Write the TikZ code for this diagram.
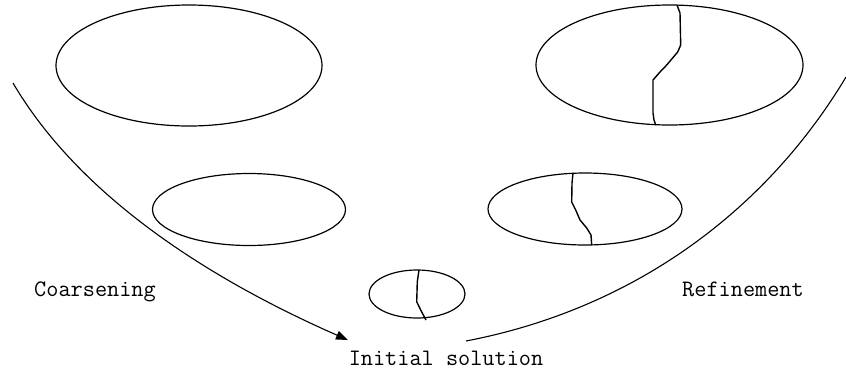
\documentclass[tikz,border=0pt]{standalone}
\usetikzlibrary{shapes.geometric,arrows.meta}
\tikzset{
  blob/.style={draw=black,ellipse,line width=1.2pt,inner sep=0pt},
  cut/.style={draw=black,line width=1.4pt,line join=round},
  flow/.style={draw=black,line width=1.1pt},
  lbl/.style={font=\ttfamily\fontsize{23.6}{27}\selectfont,anchor=base,inner sep=0pt}
}
\begin{document}
\begin{tikzpicture}[x=1pt,y=-1pt]
\useasboundingbox (0,0) rectangle (846,376);
% ellipses
\node[blob,minimum width=266pt,minimum height=121pt] (e1) at (189,65.5) {};
\node[blob,minimum width=267pt,minimum height=120pt] (e2) at (669.5,65) {};
\node[blob,minimum width=193pt,minimum height=72pt] (e3) at (249,209.5) {};
\node[blob,minimum width=194pt,minimum height=72pt] (e4) at (585,209) {};
\node[blob,minimum width=96pt,minimum height=48pt] (e5) at (417,294) {};
% partition cuts
\draw[cut] (677,5) -- (680,13) -- (680.7,45) -- (677.7,52) -- (666.7,65) -- (660,72) -- (653,80) -- (653,113) -- (654,120) -- (655.7,125);
\draw[cut] (573,173) -- (572,183) -- (571.7,202) -- (575.7,210) -- (580,220) -- (586.7,228) -- (591,235) -- (591.7,245);
\draw[cut] (419,270) -- (417.3,281.7) -- (416.7,301.7) -- (420.7,310) -- (426,320);
% labels
\node[lbl] (co) at (95,296.7) {Coarsening};
\node[lbl] (re) at (743,296.7) {Refinement};
\node[lbl] (is) at (446,365) {Initial solution};
% flow curves
\coordinate (ls) at (13,83);
\coordinate (le) at (348,340);
\coordinate (rs) at (466,341);
\coordinate (re2) at (846,77);
\draw[flow,-{Triangle[length=12pt,width=9pt]}] (ls) .. controls (71,181.7) and (182.7,267.3) .. (le);
\draw[flow] (rs) .. controls (633,309) and (765,212) .. (re2);
\end{tikzpicture}
\end{document}
